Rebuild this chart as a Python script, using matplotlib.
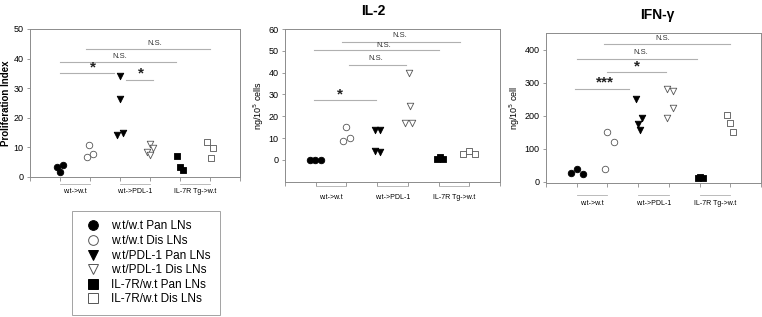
import matplotlib.pyplot as plt
from matplotlib.lines import Line2D
import matplotlib.transforms as mtransforms

plt.rcParams['font.family'] = ['Liberation Sans', 'DejaVu Sans']

# groups on the x axis
groups = ["w.t->w.t", "w.t->PDL-1", "IL-7R Tg->w.t"]
group_pos = [1.5, 3.5, 5.5]

series_names = ["w.t/w.t Pan LNs", "w.t/w.t Dis LNs", "w.t/PDL-1 Pan LNs",
                "w.t/PDL-1 Dis LNs", "IL-7R/w.t Pan LNs", "IL-7R/w.t Dis LNs"]
markers = ["o", "o", "v", "v", "s", "s"]
filled = [True, False, True, False, True, False]

# proliferation index
prolif_x = [[0.91, 1.0, 1.11], [1.89, 1.98, 2.09], [3.0, 3.0, 2.91, 3.09],
            [4.0, 4.11, 3.91, 4.0], [4.91, 5.0, 5.11], [5.91, 6.11, 6.02]]
prolif_y = [[3.4, 1.7, 4.0], [6.8, 10.9, 7.9], [34.0, 26.5, 14.3, 14.8],
            [11.0, 9.8, 8.5, 7.4], [7.0, 3.5, 2.2], [11.9, 9.8, 6.4]]

# IL-2
il2_x = [[0.8, 0.98, 1.17], [1.9, 1.98, 2.1], [2.92, 3.1, 2.92, 3.1],
         [4.05, 4.08, 3.92, 4.13], [4.95, 5.05, 5.14], [5.8, 6.0, 6.2]]
il2_y = [[0, 0, 0], [8.5, 15.0, 10.1], [13.9, 13.9, 4.3, 3.7],
         [39.8, 24.9, 16.9, 16.9], [0.3, 1.5, 0.5], [2.9, 4.0, 2.9]]

# IFN-gamma
ifn_x = [[0.8, 1.0, 1.2], [1.93, 2.0, 2.2], [2.93, 3.12, 3.0, 3.05],
         [3.93, 4.13, 4.13, 3.93], [4.95, 5.03, 5.1], [5.9, 6.0, 6.1]]
ifn_y = [[25, 38, 22], [38, 151, 121], [249, 194, 176, 156],
         [280, 273, 222, 194], [12, 13, 11], [201, 178, 151]]

# significance bars: x0, x1, y, label, label x, label y
prolif_sig = [(1.0, 2.8, 35.0, "*", 2.1, 37.0),
              (3.2, 4.1, 32.7, "*", 3.7, 34.9),
              (1.0, 4.85, 39.0, "N.S.", 3.0, 40.6),
              (1.86, 6.0, 43.4, "N.S.", 4.16, 45.0)]
il2_sig = [(0.93, 2.95, 27.6, "*", 1.8, 29.8),
           (2.07, 3.93, 43.7, "N.S.", 2.97, 46.5),
           (0.93, 5.0, 50.2, "N.S.", 3.2, 52.6),
           (1.85, 5.7, 54.0, "N.S.", 3.75, 56.8)]
ifn_sig = [(0.93, 2.7, 279, "***", 1.93, 300),
           (2.0, 3.9, 331, "*", 2.95, 348),
           (1.0, 4.9, 372, "N.S.", 3.1, 392),
           (1.9, 6.0, 417, "N.S.", 3.8, 434)]

spine_col = "#8c8c8c"
line_col = "#b0b0b0"
edge_col = "#555555"

fig = plt.figure(figsize=(7.62, 3.17), dpi=100)

panels = [
    dict(rect=[30/762, 1-177/317, 210/762, 148/317], xs=prolif_x, ys=prolif_y,
         sig=prolif_sig, ylim=(0, 50), yticks=range(0, 51, 10),
         ylabel="Proliferation Index", bold_ylabel=True,
         uline=-0.047, glabel=-0.10),
    dict(rect=[285/762, 1-181.8/317, 215/762, 152.8/317], xs=il2_x, ys=il2_y,
         sig=il2_sig, ylim=(-10, 60), yticks=range(0, 61, 10),
         ylabel="ng/10$^5$ cells", bold_ylabel=False,
         uline=-0.03, glabel=-0.10),
    dict(rect=[546/762, 1-183.3/317, 215/762, 150.3/317], xs=ifn_x, ys=ifn_y,
         sig=ifn_sig, ylim=(-5, 450), yticks=range(0, 401, 100),
         ylabel="ng/10$^5$ cell", bold_ylabel=False,
         uline=-0.08, glabel=-0.135),
]

for p in panels:
    ax = fig.add_axes(p["rect"])
    for i in range(len(series_names)):
        fc = "black" if filled[i] else "white"
        ec = "black" if filled[i] else edge_col
        ax.scatter(p["xs"][i], p["ys"][i], marker=markers[i], s=22,
                   facecolor=fc, edgecolor=ec, linewidth=0.6, zorder=3)
    for x0, x1, y, lab, lx, ly in p["sig"]:
        ax.plot([x0, x1], [y, y], color=line_col, lw=0.8, zorder=1)
        if lab == "N.S.":
            ax.text(lx, ly, lab, ha="center", va="center", fontsize=5.5, color="#333333")
        else:
            ax.text(lx, ly, lab, ha="center", va="center", fontsize=11,
                    fontweight="bold", color="#222222")
    ax.set_xlim(0, 7)
    ax.set_ylim(*p["ylim"])
    ax.set_xticks(range(0, 8))
    ax.set_xticklabels([])
    ax.set_yticks(list(p["yticks"]))
    ax.tick_params(axis="both", direction="out", length=2.5, width=0.6,
                   color=spine_col, labelsize=6.5, pad=2)
    ax.tick_params(axis="x", length=3)
    for s in ax.spines.values():
        s.set_color(spine_col)
        s.set_linewidth(0.7)
    ax.set_ylabel(p["ylabel"], fontsize=7 if p["bold_ylabel"] else 6.5,
                  fontweight="bold" if p["bold_ylabel"] else "normal", labelpad=2)
    trans = mtransforms.blended_transform_factory(ax.transData, ax.transAxes)
    for g, gx in zip(groups, group_pos):
        ax.plot([gx - 0.5, gx + 0.5], [p["uline"], p["uline"]], color=line_col,
                lw=0.6, transform=trans, clip_on=False)
        ax.text(gx, p["glabel"], g, ha="center", va="center", fontsize=5,
                transform=trans)

fig.text(373/762, 1-11/317, "IL-2", ha="center", va="center", fontsize=10, fontweight="bold")
fig.text(657/762, 1-15/317, "IFN-\u03b3", ha="center", va="center", fontsize=10, fontweight="bold")

handles = []
for i in range(len(series_names)):
    fc = "black" if filled[i] else "white"
    ec = "black" if filled[i] else edge_col
    handles.append(Line2D([], [], ls="none", marker=markers[i], markersize=7,
                          markerfacecolor=fc, markeredgecolor=ec, markeredgewidth=0.7))
leg = fig.legend(handles, series_names, loc="upper left",
                 bbox_to_anchor=(72/762, 1-211/317), borderaxespad=0,
                 fontsize=8.5, frameon=True, fancybox=False, handlelength=2.0,
                 handletextpad=0.5, labelspacing=0.22, borderpad=0.8)
leg.get_frame().set_edgecolor(spine_col)
leg.get_frame().set_linewidth(0.7)

fig.savefig("out.png", dpi=100)
